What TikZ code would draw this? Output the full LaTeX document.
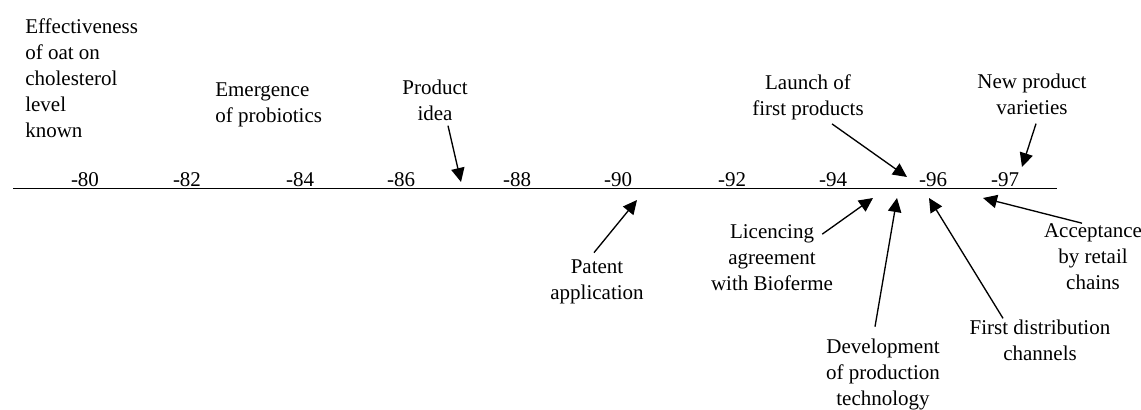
\documentclass[tikz,border=0pt]{standalone}
\usepackage{fontspec}
\setmainfont{Liberation Serif}
\usetikzlibrary{arrows.meta,calc}

\begin{document}
\begin{tikzpicture}[x=0.75pt,y=-0.75pt]
  \useasboundingbox (0,0) rectangle (1141,410);

      % time axis
      \coordinate (start) at (13,188.5);
      \coordinate (end)   at (1057,188.5);
      \draw[line width=1.1pt] (start) -- (end);

      \begin{scope}[every node/.style={anchor=base, inner sep=0pt, font=\fontsize{15.75}{19.5}\selectfont}]
        \node (y80) at (85,186)   {-80};
        \node (y82) at (187,186)  {-82};
        \node (y84) at (300,186)  {-84};
        \node (y86) at (401,186)  {-86};
        \node (y88) at (517,186)  {-88};
        \node (y90) at (618,186)  {-90};
        \node (y92) at (732,186)  {-92};
        \node (y94) at (833,186)  {-94};
        \node (y96) at (933,186)  {-96};
        \node (y97) at (1005,186) {-97};
      \end{scope}

      \begin{scope}[every node/.style={inner sep=0pt, align=center, font=\fontsize{15.75}{19.5}\selectfont}]
        \node[anchor=west, align=left] (oat) at (25,78)
          {Effectiveness\\of oat on\\cholesterol\\level\\known};
        \node[anchor=west, align=left] (probio) at (215,104.5)
          {Emergence\\of probiotics};
        \node (idea)      at (435,100.5) {Product\\idea};
        \node (patent)    at (597,281.5) {Patent\\application};
        \node (launch)    at (808,97.5)  {Launch of\\first products};
        \node (newvar)    at (1032,94.5) {New product\\varieties};
        \node (licence)   at (772,258)   {Licencing\\agreement\\with Bioferme};
        \node (dev)       at (883,374)   {Development\\of production\\technology};
        \node (firstdist) at (1040,340.5){First distribution\\channels};
        \node (accept)    at (1093,257)  {Acceptance\\by retail\\chains};
      \end{scope}

      % arrow tips on the axis
      \coordinate (t-idea)      at (461,182);
      \coordinate (t-patent)    at (637,200);
      \coordinate (t-launch)    at (907,177);
      \coordinate (t-newvar)    at (1022,167);
      \coordinate (t-licence)   at (873,198);
      \coordinate (t-dev)       at (897,198);
      \coordinate (t-firstdist) at (929,198);
      \coordinate (t-accept)    at (983,198);

      \begin{scope}[every edge/.style={draw, line width=1pt, -{Triangle[length=10.5pt,width=10pt]}}]
        \path ($(idea.south)+(13,4.5)$)          edge (t-idea);
        \path ($(patent.north)+(-3,-6.5)$)       edge (t-patent);
        \path ($(launch.south)+(24,3.5)$)        edge (t-launch);
        \path ($(newvar.south)+(4,8.5)$)         edge (t-newvar);
        \path ($(licence.north east)+(-11,9.5)$) edge (t-licence);
        \path ($(dev.north)+(-8,-11.5)$)         edge (t-dev);
        \path ($(firstdist.north)+(-37,-1.5)$)   edge (t-firstdist);
        \path ($(accept.north)+(-11,-0.5)$)      edge (t-accept);
      \end{scope}

\end{tikzpicture}
\end{document}
